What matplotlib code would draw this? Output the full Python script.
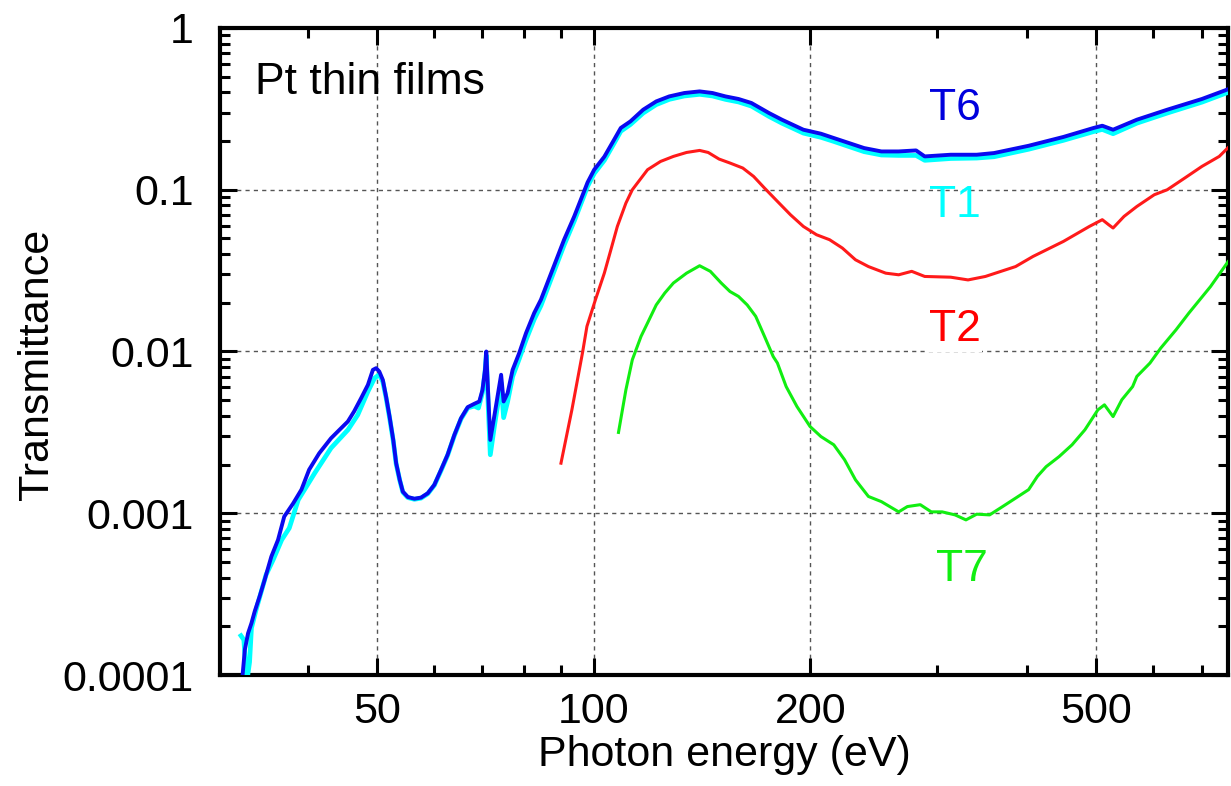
import matplotlib
matplotlib.use("Agg")
import matplotlib.pyplot as plt
from matplotlib.ticker import FixedLocator, NullFormatter, FixedFormatter

plt.rcParams['font.family'] = ['Liberation Sans', 'DejaVu Sans']

# T6 (blue)
e_t6 = [32.4, 32.7, 33.04, 33.4, 33.75, 34.28, 34.84, 35.6, 36.37, 37.1, 38.17, 39.2, 40.18,
        41.5, 43.1, 44.28, 45.48, 46.4, 47.46, 48.5, 49.28, 49.8, 50.3, 50.87, 51.4, 51.98,
        52.6, 53.09, 53.7, 54.24, 55.11, 56.29, 57.5, 58.75, 60.0, 61.31, 62.6, 63.97, 65.35,
        66.77, 68.19, 69.29, 70.0, 70.56, 70.85, 71.31, 71.77, 72.68, 74.3, 74.9, 75.86, 77.09,
        78.73, 80.47, 82.6, 84.4, 90.9, 93.9, 96.9, 98.0, 100.1, 103.4, 106.7, 109.0, 112.4,
        117.1, 122.1, 127.3, 133.6, 140.3, 146.2, 152.4, 158.9, 165.6, 175.2, 182.6, 195.6,
        206.9, 215.6, 237.6, 251.1, 265.4, 280.6, 288.5, 313.5, 340.7, 360.2, 402.4, 449.7,
        495.5, 509.4, 527.3, 569, 627.2, 700.9, 762]
t_t6 = [9.0e-5, 1.43e-4, 1.81e-4, 2.09e-4, 2.47e-4, 3.05e-4, 3.87e-4, 5.40e-4, 6.85e-4, 9.54e-4,
        1.15e-3, 1.40e-3, 1.86e-3, 2.35e-3, 2.91e-3, 3.28e-3, 3.69e-3, 4.26e-3, 5.15e-3, 6.22e-3,
        7.70e-3, 7.89e-3, 7.52e-3, 6.68e-3, 5.27e-3, 3.96e-3, 2.84e-3, 2.04e-3, 1.61e-3, 1.36e-3,
        1.26e-3, 1.23e-3, 1.25e-3, 1.33e-3, 1.50e-3, 1.86e-3, 2.30e-3, 3.05e-3, 3.87e-3, 4.53e-3,
        4.75e-3, 4.91e-3, 5.80e-3, 7.70e-3, 1.0e-2, 5.27e-3, 2.84e-3, 3.96e-3, 7.18e-3, 4.91e-3,
        5.53e-3, 7.70e-3, 9.78e-3, 1.30e-2, 1.73e-2, 2.09e-2, 4.91e-2, 6.84e-2, 9.76e-2, 0.111,
        0.133, 0.160, 0.204, 0.241, 0.2645, 0.3125, 0.3516, 0.3776, 0.3963, 0.4055, 0.3963,
        0.3776, 0.364, 0.3438, 0.298, 0.271, 0.235, 0.222, 0.2088, 0.181, 0.1725, 0.1725, 0.175,
        0.1607, 0.1646, 0.1646, 0.1686, 0.187, 0.212, 0.241, 0.2487, 0.235, 0.271, 0.3125, 0.364,
        0.418]

# T1 (cyan)
e_t1 = [32.3, 32.6, 32.9, 33.2, 33.4, 33.9, 35.0, 35.8, 36.8, 37.7, 38.8, 40.9, 43.1, 45.5,
        46.95, 48.5, 49.55, 50.3, 50.87, 51.4, 51.98, 52.6, 53.09, 53.7, 54.24, 55.11, 56.29,
        57.5, 58.75, 60.0, 61.31, 62.6, 63.97, 65.35, 66.77, 68.19, 69.1, 70.0, 70.56, 70.85,
        71.31, 71.77, 72.68, 74.3, 74.9, 75.86, 77.09, 78.73, 80.47, 82.6, 84.4, 90.9, 93.9,
        96.9, 98.0, 100.1, 103.4, 106.7, 109.0, 112.4, 117.1, 122.1, 127.3, 133.6, 140.3, 146.2,
        152.4, 158.9, 165.6, 175.2, 182.6, 195.6, 206.9, 215.6, 237.6, 251.1, 265.4, 280.6,
        288.5, 313.5, 340.7, 360.2, 402.4, 449.7, 495.5, 509.4, 527.3, 569, 627.2, 700.9, 762]
t_t1 = [1.75e-4, 1.65e-4, 9.0e-5, 1.2e-4, 1.95e-4, 2.53e-4, 4.16e-4, 5.15e-4, 6.85e-4, 8.09e-4,
        1.21e-3, 1.77e-3, 2.53e-3, 3.28e-3, 4.06e-3, 5.66e-3, 6.85e-3, 7.2e-3, 6.5e-3, 5.2e-3,
        3.9e-3, 2.8e-3, 2.02e-3, 1.6e-3, 1.35e-3, 1.25e-3, 1.22e-3, 1.24e-3, 1.32e-3, 1.49e-3,
        1.84e-3, 2.28e-3, 3.02e-3, 3.83e-3, 4.48e-3, 4.6e-3, 4.47e-3, 5.6e-3, 7.4e-3, 9.5e-3,
        4.5e-3, 2.3e-3, 3.4e-3, 6.4e-3, 3.9e-3, 4.9e-3, 7.0e-3, 9.0e-3, 1.18e-2, 1.58e-2,
        1.92e-2, 4.55e-2, 6.4e-2, 9.2e-2, 0.105, 0.126, 0.152, 0.194, 0.230, 0.253, 0.298,
        0.336, 0.362, 0.380, 0.389, 0.380, 0.362, 0.349, 0.329, 0.284, 0.258, 0.224, 0.211,
        0.199, 0.172, 0.164, 0.163, 0.163, 0.152, 0.156, 0.157, 0.160, 0.178, 0.202, 0.229,
        0.236, 0.222, 0.258, 0.298, 0.348, 0.40]

# T2 (red)
e_t2 = [90.0, 93.2, 96.45, 97.8, 100.5, 103.4, 105.6, 107.8, 110.8, 113.1, 118.75, 123.8, 129.0,
        134.55, 140.3, 144.2, 149.3, 154.6, 161.1, 166.8, 172.7, 180.0, 187.7, 195.6, 204.0,
        212.7, 221.6, 231.1, 240.9, 254.6, 265.4, 276.7, 288.5, 313.5, 331.4, 350.3, 385.9,
        408.1, 449.7, 488.7, 509.4, 520.1, 527.3, 546.1, 569, 601.6, 627.2, 663.1, 700.9,
        740.8, 762]
t_t2 = [2.04e-3, 4.36e-3, 9.89e-3, 1.43e-2, 2.09e-2, 3.05e-2, 4.26e-2, 5.93e-2, 8.27e-2, 0.1,
        0.133, 0.1496, 0.1607, 0.170, 0.175, 0.170, 0.1548, 0.1463, 0.1362, 0.1208, 0.1024,
        0.0847, 0.070, 0.0593, 0.0527, 0.0491, 0.0436, 0.0369, 0.0335, 0.0305, 0.0298, 0.0313,
        0.0291, 0.0288, 0.0277, 0.0291, 0.0335, 0.0387, 0.0479, 0.0593, 0.0653, 0.0607, 0.058,
        0.0684, 0.0788, 0.0931, 0.1, 0.118, 0.1394, 0.1607, 0.1819]

# T7 (green)
e_t7 = [108.2, 110.8, 113.1, 116.3, 118.75, 122.1, 125.5, 129.0, 134.55, 140.3, 145.2, 150.35,
        154.6, 158.9, 163.4, 167.9, 172.7, 177.6, 180.0, 185.1, 191.6, 199.8, 206.9, 215.6,
        223.2, 231.1, 240.9, 251.1, 265.4, 272.9, 284.4, 294.6, 305.0, 317.9, 329.2, 340.7,
        355.1, 370.2, 385.9, 402.4, 413.8, 425.5, 443.6, 462.4, 481.8, 502.3, 512.9, 527.3,
        542.3, 561.4, 569, 593.4, 614.3, 644.9, 672.3, 720.4, 762]
t_t7 = [3.16e-3, 5.80e-3, 8.89e-3, 1.24e-2, 1.50e-2, 1.94e-2, 2.30e-2, 2.65e-2, 3.05e-2, 3.39e-2,
        3.13e-2, 2.65e-2, 2.35e-2, 2.19e-2, 1.94e-2, 1.65e-2, 1.24e-2, 9.3e-3, 8.48e-3, 6.07e-3,
        4.57e-3, 3.44e-3, 2.98e-3, 2.65e-3, 2.14e-3, 1.61e-3, 1.27e-3, 1.18e-3, 1.02e-3, 1.10e-3,
        1.13e-3, 1.02e-3, 1.02e-3, 9.77e-4, 9.10e-4, 9.87e-4, 9.77e-4, 1.10e-3, 1.24e-3, 1.40e-3,
        1.69e-3, 1.94e-3, 2.24e-3, 2.65e-3, 3.28e-3, 4.36e-3, 4.68e-3, 3.96e-3, 5.03e-3, 6.07e-3,
        7.01e-3, 8.48e-3, 1.05e-2, 1.36e-2, 1.73e-2, 2.52e-2, 3.59e-2]

x_major = [50, 100, 200, 500]
x_minor = [40, 60, 70, 80, 90, 300, 400, 600, 700]
y_major = [1e-4, 1e-3, 1e-2, 1e-1, 1]
y_labels = ['0.0001', '0.001', '0.01', '0.1', '1']

fig = plt.figure(figsize=(12.31, 7.86), dpi=100)
ax = fig.add_axes([0.1787, 0.1412, 0.8189, 0.8232])

ax.plot(e_t1, t_t1, color='#00ffff', lw=3.4, zorder=3)
ax.plot(e_t6, t_t6, color='#0a0af0', lw=2.8, zorder=4)
ax.plot(e_t2, t_t2, color='#ff1a1a', lw=2.2, zorder=3)
ax.plot(e_t7, t_t7, color='#11ee11', lw=2.2, zorder=3)

ax.set_xscale('log')
ax.set_yscale('log')
ax.set_xlim(30.2, 762)
ax.set_ylim(1e-4, 1)

ax.xaxis.set_major_locator(FixedLocator(x_major))
ax.xaxis.set_major_formatter(FixedFormatter([str(v) for v in x_major]))
ax.xaxis.set_minor_locator(FixedLocator(x_minor))
ax.xaxis.set_minor_formatter(NullFormatter())
ax.yaxis.set_major_locator(FixedLocator(y_major))
ax.yaxis.set_major_formatter(FixedFormatter(y_labels))
ax.yaxis.set_minor_locator(FixedLocator([m * 10.0 ** d for d in range(-4, 0) for m in range(2, 10)]))
ax.yaxis.set_minor_formatter(NullFormatter())

ax.tick_params(which='both', direction='in', top=True, right=True, width=2.2)
ax.tick_params(which='major', length=12, labelsize=31)
ax.tick_params(which='minor', length=7)
ax.tick_params(axis='y', which='major', pad=19)
ax.tick_params(axis='x', which='major', pad=12)
for s in ax.spines.values():
    s.set_linewidth(3)

ax.grid(True, which='major', linestyle=(0, (3, 3)), color='#555555', lw=1)

ax.set_xlabel('Photon energy (eV)', fontsize=31)
ax.set_ylabel('Transmittance', fontsize=31)
ax.xaxis.set_label_coords(0.5, -0.093)
ax.yaxis.set_label_coords(-0.162, 0.48)

ax.text(0.035, 0.915, 'Pt thin films', transform=ax.transAxes, fontsize=32, va='center', ha='left')
ax.text(318, 0.317, 'T6', color='#0000dd', fontsize=32, ha='center', va='center', zorder=5)
ax.text(318, 0.0794, 'T1', color='#00ffff', fontsize=32, ha='center', va='center', zorder=5)
ax.text(318, 0.0136, 'T2', color='#ff0000', fontsize=32, ha='center', va='center', zorder=5,
        bbox=dict(facecolor='white', edgecolor='none', pad=1))
ax.text(325, 0.000446, 'T7', color='#11ee11', fontsize=32, ha='center', va='center', zorder=5)

fig.savefig('out.png', dpi=100)
